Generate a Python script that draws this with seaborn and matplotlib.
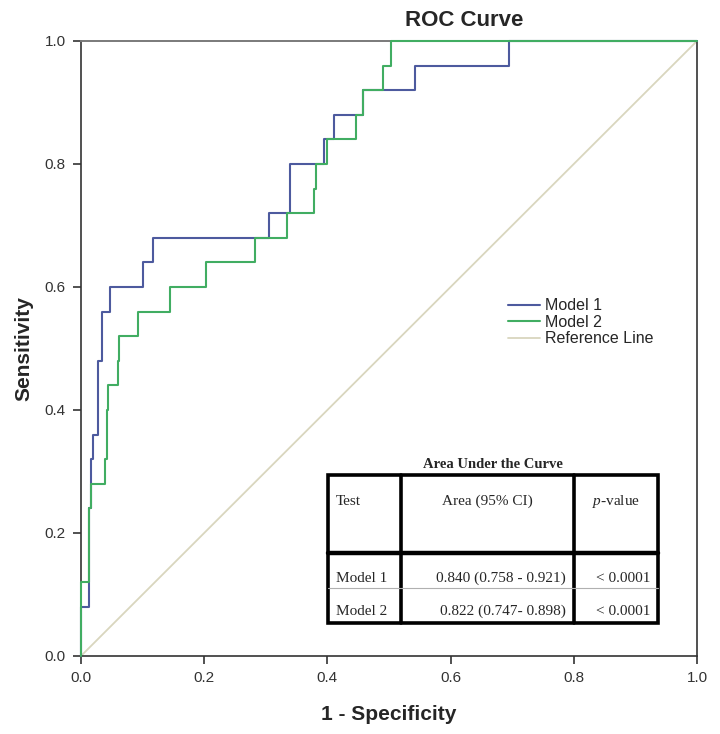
import matplotlib
matplotlib.use('Agg')
import matplotlib.pyplot as plt
import seaborn as sns
import pandas as pd
from matplotlib.lines import Line2D
from matplotlib.patches import Rectangle

# ROC coordinates (1 - specificity, sensitivity), drawn as steps (vertical first)
m1_fpr = [0.0, 0.0135, 0.017, 0.020, 0.028, 0.034, 0.047, 0.100, 0.117, 0.305,
          0.339, 0.394, 0.410, 0.457, 0.542, 0.694, 1.0]
m1_tpr = [0.0, 0.08, 0.24, 0.32, 0.36, 0.48, 0.56, 0.60, 0.64, 0.68,
          0.72, 0.80, 0.84, 0.88, 0.92, 0.96, 1.0]

m2_fpr = [0.0, 0.013, 0.016, 0.0395, 0.042, 0.044, 0.0595, 0.061, 0.092, 0.144,
          0.203, 0.283, 0.334, 0.379, 0.381, 0.400, 0.446, 0.458, 0.491, 0.504, 1.0]
m2_tpr = [0.0, 0.12, 0.24, 0.28, 0.32, 0.40, 0.44, 0.48, 0.52, 0.56,
          0.60, 0.64, 0.68, 0.72, 0.76, 0.80, 0.84, 0.88, 0.92, 0.96, 1.0]

ref_x = [0.0, 1.0]
ref_y = [0.0, 1.0]

ticks = [0.0, 0.2, 0.4, 0.6, 0.8, 1.0]

table_title = "Area Under the Curve"
table_header = ["Test", "Area (95% CI)", "$p$-value"]
table_models = ["Model 1", "Model 2"]
table_auc = ["0.840 (0.758 - 0.921)", "0.822 (0.747- 0.898)"]
table_p = ["< 0.0001", "< 0.0001"]

sns.set_style("white")
plt.rcParams['font.family'] = ['Liberation Sans', 'DejaVu Sans']
plt.rcParams['mathtext.fontset'] = 'custom'
plt.rcParams['mathtext.rm'] = 'Liberation Serif'
plt.rcParams['mathtext.it'] = 'Liberation Serif:italic'

c1 = '#4d5a9e'
c2 = '#41ad62'
cref = '#d9d6be'

fig = plt.figure(figsize=(7.2, 7.34), dpi=100)
ax = fig.add_axes([0.1125, 0.1063, 0.8556, 0.8379])

df1 = pd.DataFrame({'fpr': m1_fpr, 'tpr': m1_tpr})
df2 = pd.DataFrame({'fpr': m2_fpr, 'tpr': m2_tpr})
sns.lineplot(data=df1, x='fpr', y='tpr', ax=ax, color=c1, lw=1.5, sort=False,
             estimator=None, drawstyle='steps-pre', label='Model 1', zorder=3, clip_on=False)
sns.lineplot(data=df2, x='fpr', y='tpr', ax=ax, color=c2, lw=1.5, sort=False,
             estimator=None, drawstyle='steps-pre', label='Model 2', zorder=4, clip_on=False)
sns.lineplot(x=ref_x, y=ref_y, ax=ax, color=cref, lw=1.3, label='Reference Line', zorder=2)

ax.set_xlim(0, 1)
ax.set_ylim(0, 1)
ax.set_xticks(ticks)
ax.set_yticks(ticks)
ax.set_xticklabels([f"{t:.1f}" for t in ticks])
ax.set_yticklabels([f"{t:.1f}" for t in ticks])
ax.tick_params(direction='out', length=6, width=1.2, colors='#333333', labelsize=11,
               bottom=True, left=True, pad=5)

for s in ['left', 'bottom', 'right']:
    ax.spines[s].set_color('#333333')
    ax.spines[s].set_linewidth(1.2)
ax.spines['top'].set_color('#7a7a7a')
ax.spines['top'].set_linewidth(1.4)

ax.set_xlabel('1 - Specificity', fontsize=15, fontweight='bold', labelpad=14)
ax.set_ylabel('Sensitivity', fontsize=15, fontweight='bold', labelpad=8)
fig.text(464 / 720, 1 - 20 / 734, 'ROC Curve', ha='center', va='center',
         fontsize=16, fontweight='bold')

ax.legend(loc='upper left', bbox_to_anchor=(0.67, 0.605), frameon=False, fontsize=11.5,
          handlelength=2.0, labelspacing=0.1, handletextpad=0.3)

# AUC table drawn inside the axes
tr = ax.transAxes
x0, x1, x2, x3 = 0.401, 0.519, 0.800, 0.937
yb, yh, yt = 0.0537, 0.168, 0.294
ythin = 0.110
ax.add_patch(Rectangle((x0, yb), x3 - x0, yt - yb, transform=tr, fill=True,
                       facecolor='white', edgecolor='black', lw=2.6, zorder=6))
for xv in [x1, x2]:
    ax.add_line(Line2D([xv, xv], [yb, yt], transform=tr, color='black', lw=2.6, zorder=7))
ax.add_line(Line2D([x0, x3], [yh, yh], transform=tr, color='black', lw=3.2, zorder=7))
ax.add_line(Line2D([x0, x1], [ythin, ythin], transform=tr, color='#b0b0b0', lw=0.8, zorder=7))
ax.add_line(Line2D([x1, x3], [ythin, ythin], transform=tr, color='#b0b0b0', lw=0.8, zorder=7))

serif = ['Liberation Serif', 'DejaVu Serif']
ax.text((x0 + x3) / 2, 0.311, table_title, transform=tr, ha='center', va='center',
        fontsize=10.5, fontweight='bold', family=serif, zorder=8)
hy = 0.251
ax.text(x0 + 0.013, hy, table_header[0], transform=tr, ha='left', va='center',
        fontsize=11, family=serif, zorder=8)
ax.text((x1 + x2) / 2, hy, table_header[1], transform=tr, ha='center', va='center',
        fontsize=11, family=serif, zorder=8)
ax.text((x2 + x3) / 2, hy, table_header[2], transform=tr, ha='center', va='center',
        fontsize=11, family=serif, zorder=8)
for i, ry in enumerate([0.126, 0.073]):
    ax.text(x0 + 0.013, ry, table_models[i], transform=tr, ha='left', va='center',
            fontsize=11, family=serif, zorder=8)
    ax.text(x2 - 0.013, ry, table_auc[i], transform=tr, ha='right', va='center',
            fontsize=11, family=serif, zorder=8)
    ax.text(x3 - 0.012, ry, table_p[i], transform=tr, ha='right', va='center',
            fontsize=11, family=serif, zorder=8)

plt.savefig('out.png', dpi=100)
